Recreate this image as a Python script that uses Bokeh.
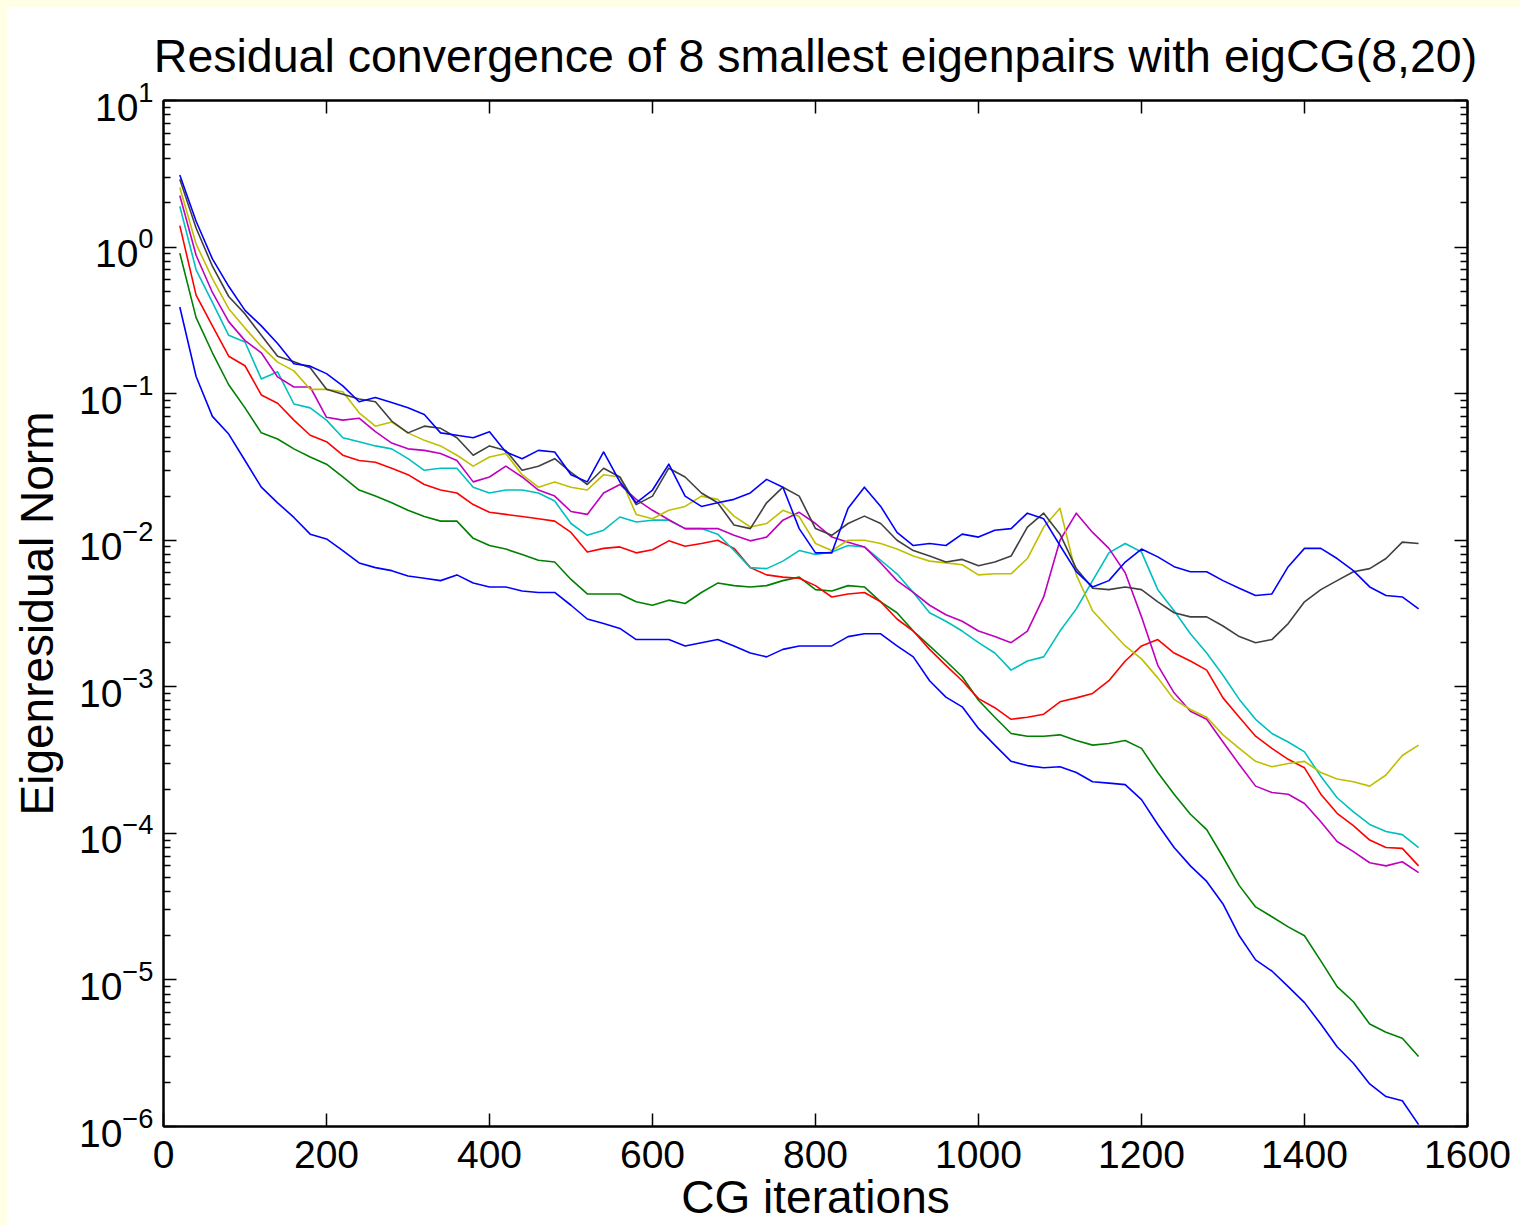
from bokeh.plotting import figure
from bokeh.layouts import column
from bokeh.models import FixedTicker, LinearAxis, LogAxis, Range1d, CustomJSTickFormatter
from bokeh.embed import file_html
from bokeh.resources import INLINE

# ---------------- data ----------------
iterations = list(range(20, 1541, 20))

blue_top = [3.1, 1.5, 0.83, 0.54, 0.37, 0.29, 0.22, 0.16, 0.154, 0.137,
            0.113, 0.088, 0.094, 0.087, 0.080, 0.072, 0.054, 0.052, 0.050, 0.055,
            0.040, 0.036, 0.041, 0.040, 0.028, 0.025, 0.040, 0.025, 0.018, 0.022,
            0.033, 0.020, 0.017, 0.018, 0.019, 0.021, 0.026, 0.023, 0.012, 0.0082,
            0.0082, 0.0165, 0.023, 0.017, 0.0113, 0.0092, 0.0095, 0.0092, 0.011, 0.0105,
            0.0117, 0.012, 0.0153, 0.014, 0.0092, 0.0061, 0.0048, 0.0053, 0.0071, 0.0087,
            0.0077, 0.0066, 0.0061, 0.0061, 0.0053, 0.0047, 0.0042, 0.0043, 0.0066, 0.0088,
            0.0088, 0.0075, 0.0062, 0.0048, 0.0042, 0.0041, 0.0034]

gray = [2.9, 1.35, 0.74, 0.46, 0.35, 0.25, 0.18, 0.165, 0.15, 0.107,
        0.099, 0.092, 0.088, 0.065, 0.054, 0.060, 0.058, 0.050, 0.038, 0.044,
        0.041, 0.030, 0.032, 0.036, 0.029, 0.024, 0.031, 0.027, 0.0175, 0.020,
        0.031, 0.027, 0.021, 0.018, 0.0127, 0.012, 0.018, 0.023, 0.020, 0.012,
        0.0108, 0.013, 0.0146, 0.013, 0.010, 0.0085, 0.0078, 0.0071, 0.0074, 0.0067,
        0.0071, 0.0078, 0.0123, 0.0153, 0.011, 0.0064, 0.0047, 0.0046, 0.0048, 0.0046,
        0.0038, 0.0032, 0.0030, 0.0030, 0.0026, 0.0022, 0.0020, 0.0021, 0.0027, 0.0038,
        0.0046, 0.0053, 0.0061, 0.0064, 0.0075, 0.0097, 0.0095]

olive = [2.55, 1.05, 0.61, 0.38, 0.28, 0.21, 0.164, 0.143, 0.107, 0.107,
         0.103, 0.074, 0.060, 0.064, 0.054, 0.048, 0.044, 0.038, 0.032, 0.037,
         0.039, 0.028, 0.023, 0.025, 0.023, 0.022, 0.028, 0.027, 0.015, 0.014,
         0.016, 0.017, 0.020, 0.019, 0.0146, 0.0123, 0.013, 0.016, 0.0145, 0.0095,
         0.0085, 0.010, 0.010, 0.0095, 0.0087, 0.0078, 0.0072, 0.0070, 0.0068, 0.0058,
         0.0059, 0.0059, 0.0075, 0.0123, 0.0165, 0.0058, 0.0033, 0.0025, 0.0019, 0.00155,
         0.00115, 0.00082, 0.00070, 0.00062, 0.00047, 0.00038, 0.00031, 0.000285, 0.00030, 0.00031,
         0.00026, 0.000235, 0.000225, 0.00021, 0.00025, 0.00034, 0.00040]

magenta = [2.25, 0.88, 0.49, 0.31, 0.23, 0.19, 0.13, 0.111, 0.111, 0.069,
           0.066, 0.068, 0.055, 0.046, 0.042, 0.041, 0.039, 0.035, 0.025, 0.027,
           0.032, 0.027, 0.022, 0.020, 0.0157, 0.015, 0.021, 0.024, 0.019, 0.016,
           0.0138, 0.012, 0.012, 0.012, 0.0108, 0.0099, 0.0105, 0.0137, 0.0155, 0.013,
           0.0105, 0.0097, 0.009, 0.0070, 0.0053, 0.0044, 0.0036, 0.0031, 0.0028, 0.0024,
           0.0022, 0.0020, 0.0024, 0.0041, 0.010, 0.0153, 0.0113, 0.0088, 0.0060, 0.0030,
           0.0014, 0.00091, 0.00068, 0.00060, 0.00042, 0.000295, 0.00021, 0.00019, 0.000185, 0.00016,
           0.00012, 0.000088, 0.000075, 0.000063, 0.000060, 0.000064, 0.000054]

cyan = [1.9, 0.70, 0.42, 0.25, 0.225, 0.126, 0.141, 0.085, 0.080, 0.066,
        0.050, 0.047, 0.044, 0.042, 0.036, 0.030, 0.031, 0.031, 0.023, 0.021,
        0.022, 0.022, 0.021, 0.0185, 0.013, 0.0108, 0.0117, 0.0144, 0.0133, 0.0137,
        0.0137, 0.012, 0.012, 0.011, 0.0085, 0.0065, 0.0064, 0.0072, 0.0085, 0.008,
        0.0083, 0.0092, 0.009, 0.0073, 0.0059, 0.0044, 0.0032, 0.0028, 0.0024, 0.0020,
        0.0017, 0.0013, 0.0015, 0.0016, 0.0024, 0.0034, 0.0053, 0.0082, 0.0095, 0.0083,
        0.0046, 0.0033, 0.0023, 0.0017, 0.0012, 0.00082, 0.00060, 0.00048, 0.00042, 0.00036,
        0.000245, 0.000175, 0.00014, 0.000115, 0.000103, 0.000098, 0.00008]

red = [1.4, 0.47, 0.29, 0.18, 0.155, 0.098, 0.086, 0.066, 0.052, 0.047,
       0.038, 0.035, 0.034, 0.031, 0.028, 0.024, 0.022, 0.021, 0.0175, 0.0155,
       0.015, 0.0145, 0.014, 0.0135, 0.0113, 0.0083, 0.0088, 0.009, 0.0082, 0.0086,
       0.0099, 0.0091, 0.0095, 0.010, 0.0088, 0.0065, 0.0058, 0.0056, 0.0055, 0.0049,
       0.0041, 0.0043, 0.0044, 0.0038, 0.0029, 0.0024, 0.0018, 0.0014, 0.0011, 0.00083,
       0.00072, 0.00060, 0.00062, 0.00065, 0.00079, 0.00084, 0.0009, 0.0011, 0.0015, 0.0019,
       0.0021, 0.0017, 0.0015, 0.0013, 0.00084, 0.00062, 0.00046, 0.00038, 0.00032, 0.00028,
       0.000185, 0.000137, 0.000113, 0.00009, 0.00008, 0.000079, 0.00006]

green = [0.91, 0.33, 0.19, 0.115, 0.080, 0.054, 0.049, 0.042, 0.037, 0.033,
         0.027, 0.022, 0.020, 0.018, 0.016, 0.0145, 0.0135, 0.0135, 0.0103, 0.0092,
         0.0087, 0.0080, 0.0073, 0.0071, 0.0054, 0.0043, 0.0043, 0.0043, 0.0038, 0.0036,
         0.0039, 0.0037, 0.0044, 0.0051, 0.0049, 0.0048, 0.0049, 0.0053, 0.0056, 0.0046,
         0.0045, 0.0049, 0.0048, 0.0038, 0.0032, 0.0024, 0.0019, 0.0015, 0.00117, 0.00081,
         0.00062, 0.00048, 0.00046, 0.00046, 0.00047, 0.00043, 0.00040, 0.00041, 0.00043, 0.00038,
         0.00026, 0.000185, 0.000135, 0.000106, 0.000069, 0.000044, 0.0000315, 0.000027, 0.000023, 0.000020,
         0.0000135, 0.000009, 0.0000071, 0.000005, 0.0000044, 0.000004, 0.000003]

blue_bottom = [0.39, 0.131, 0.070, 0.053, 0.035, 0.023, 0.018, 0.0143, 0.011, 0.0102,
               0.0085, 0.0070, 0.0065, 0.0062, 0.0057, 0.0055, 0.0053, 0.0058, 0.0051, 0.0048,
               0.0048, 0.0045, 0.0044, 0.0044, 0.0036, 0.0029, 0.0027, 0.0025, 0.0021, 0.0021,
               0.0021, 0.0019, 0.0020, 0.0021, 0.0019, 0.0017, 0.0016, 0.0018, 0.0019, 0.0019,
               0.0019, 0.0022, 0.0023, 0.0023, 0.0019, 0.0016, 0.0011, 0.00085, 0.00073, 0.00052,
               0.00040, 0.00031, 0.00029, 0.00028, 0.000285, 0.00026, 0.000225, 0.00022, 0.000215, 0.00017,
               0.000115, 0.00008, 0.00006, 0.000047, 0.000033, 0.00002, 0.0000137, 0.0000115, 0.000009, 0.000007,
               0.000005, 0.0000035, 0.0000027, 0.00000195, 0.0000016, 0.0000015, 0.00000103]

x_ticks = [0, 200, 400, 600, 800, 1000, 1200, 1400, 1600]
y_ticks = [1e-6, 1e-5, 1e-4, 1e-3, 1e-2, 1e-1, 1e0, 1e1]
y_minor = [m * d for d in y_ticks[:-1] for m in range(2, 10)]

series = [
    (blue_bottom, "#0000FF"),
    (green, "#008000"),
    (red, "#FF0000"),
    (cyan, "#00BFBF"),
    (magenta, "#BF00BF"),
    (olive, "#BFBF00"),
    (gray, "#404040"),
    (blue_top, "#0000FF"),
]

FONT = "Liberation Sans"

p = figure(width=1514, height=1219, output_backend="svg", toolbar_location=None,
           y_axis_type="log",
           x_range=Range1d(0, 1600), y_range=Range1d(1e-6, 1e1),
           min_border_left=157, min_border_right=53, min_border_top=94, min_border_bottom=98,
           background_fill_color="white", border_fill_color="white")
p.margin = (6, 0, 0, 6)

p.title.text = "Residual convergence of 8 smallest eigenpairs with eigCG(8,20)"
p.title.text_font = FONT
p.title.text_font_size = "46.5px"
p.title.text_font_style = "normal"
p.title.align = "center"
p.title.text_color = "black"
p.title.standoff = 37

p.grid.visible = False
p.outline_line_color = "black"
p.outline_line_width = 2

for ys, col in series:
    p.line(iterations, ys, line_color=col, line_width=1.6, line_join="round")

def style_axis(ax, label_size="39px"):
    ax.axis_line_color = "black"
    ax.axis_line_width = 2
    ax.major_tick_line_color = "black"
    ax.major_tick_line_width = 1.5
    ax.minor_tick_line_color = "black"
    ax.minor_tick_line_width = 1.5
    ax.major_tick_in = 13
    ax.major_tick_out = 0
    ax.minor_tick_in = 7
    ax.minor_tick_out = 0
    ax.major_label_text_font = FONT
    ax.major_label_text_font_size = label_size
    ax.major_label_text_color = "black"
    ax.axis_label_text_font = FONT
    ax.axis_label_text_font_size = "46px"
    ax.axis_label_text_font_style = "normal"
    ax.axis_label_text_color = "black"

xa = p.xaxis[0]
xa.ticker = FixedTicker(ticks=x_ticks, minor_ticks=[])
style_axis(xa)
xa.major_label_standoff = 14
xa.axis_label = "CG iterations"
xa.axis_label_standoff = 0

ya = p.yaxis[0]
ya.ticker = FixedTicker(ticks=y_ticks, minor_ticks=y_minor)
style_axis(ya)
ya.major_label_standoff = 10
ya.axis_label = "Eigenresidual Norm"
ya.axis_label_standoff = 13

blank = CustomJSTickFormatter(code="return ''")
top = LinearAxis(ticker=FixedTicker(ticks=x_ticks, minor_ticks=[]), formatter=blank)
style_axis(top, "0px")
top.major_label_standoff = 0
p.add_layout(top, "above")

right = LogAxis(ticker=FixedTicker(ticks=y_ticks, minor_ticks=y_minor), formatter=blank)
style_axis(right, "0px")
right.major_label_standoff = 0
p.add_layout(right, "right")

layout = column(p, styles={"background-color": "#FFFFE6"})

open("out.html", "w").write(file_html(layout, INLINE))
